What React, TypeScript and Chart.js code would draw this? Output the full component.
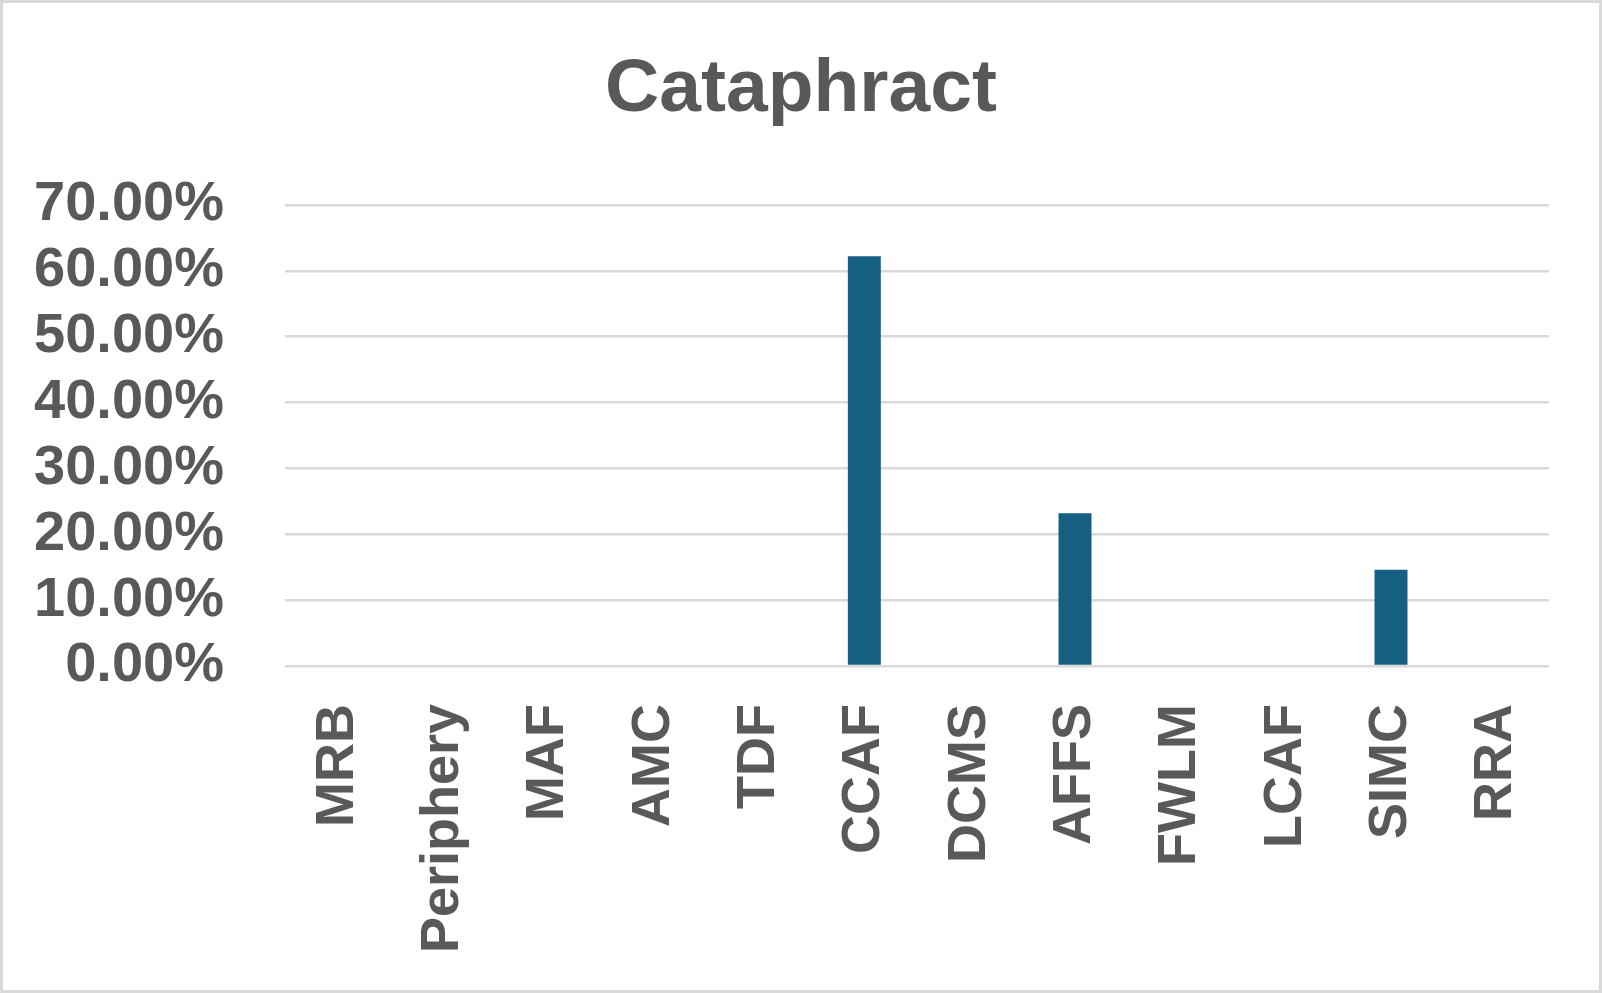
import React, { useEffect, useRef } from "react";
import { Chart, registerables } from "chart.js";

Chart.register(...registerables);

const categories = ["MRB", "Periphery", "MAF", "AMC", "TDF", "CCAF", "DCMS", "AFFS", "FWLM", "LCAF", "SIMC", "RRA"];
const shares = [0, 0, 0, 0, 0, 0.622, 0, 0.232, 0, 0, 0.146, 0];
const yMax = 0.7;
const yStep = 0.1;
const titleText = "Cataphract";

const W = 1602;
const H = 993;
const FONT = "'Liberation Sans', Arial, sans-serif";
const TEXT = "#595959";
const GRID = "#d9d9d9";
const BAR = "#156082";

const frame = {
  id: "frame",
  beforeDraw(chart: any) {
    const ctx = chart.ctx;
    ctx.save();
    ctx.fillStyle = "#ffffff";
    ctx.fillRect(0, 0, chart.width, chart.height);
    ctx.restore();
  },
  afterDraw(chart: any) {
    const ctx = chart.ctx;
    ctx.save();
    ctx.strokeStyle = GRID;
    ctx.lineWidth = 3;
    ctx.strokeRect(1.5, 1.5, chart.width - 3, chart.height - 3);
    ctx.restore();
  },
};

export default function App() {
  const ref = useRef<HTMLCanvasElement | null>(null);
  useEffect(() => {
    if (!ref.current) return;
    const chart = new Chart(ref.current, {
      type: "bar",
      data: {
        labels: categories,
        datasets: [
          {
            data: shares,
            backgroundColor: BAR,
            borderWidth: 0,
            categoryPercentage: 1,
            barPercentage: 0.313,
            yAxisID: "y",
          },
        ],
      },
      options: {
        responsive: false,
        animation: false,
        layout: { padding: { left: 0, right: 0, top: 0, bottom: 0 } },
        plugins: {
          legend: { display: false },
          tooltip: { enabled: false },
          title: {
            display: true,
            text: titleText,
            color: TEXT,
            font: { family: FONT, size: 75, weight: "bold", lineHeight: 1.2 },
            padding: { top: 45, bottom: 70 },
          },
        },
        scales: {
          x: {
            grid: { display: false, drawTicks: false },
            border: { display: false },
            ticks: {
              color: TEXT,
              font: { family: FONT, size: 54, weight: "bold" },
              minRotation: 90,
              maxRotation: 90,
              padding: 38,
              autoSkip: false,
            },
            afterFit(scale: any) {
              scale.height = H - 666;
            },
          },
          y: {
            min: 0,
            max: yMax,
            grid: { color: GRID, lineWidth: 2.5, drawTicks: false },
            border: { display: false },
            ticks: {
              stepSize: yStep,
              autoSkip: false,
              color: TEXT,
              padding: 61,
              font: { family: FONT, size: 56, weight: "bold" },
              callback: (v: any) => (Number(v) * 100).toFixed(2) + "%",
            },
            afterFit(scale: any) {
              scale.width = 285;
            },
          },
          yRight: {
            position: "right",
            min: 0,
            max: yMax,
            grid: { display: false, drawTicks: false },
            border: { display: false },
            ticks: { display: false },
            afterFit(scale: any) {
              scale.width = W - 1549;
            },
          },
        },
      },
      plugins: [frame],
    });
    return () => chart.destroy();
  }, []);
  return (
    <div style={{ position: "fixed", left: 0, top: 0, width: W, height: H }}>
      <canvas ref={ref} width={W} height={H} style={{ display: "block" }} />
    </div>
  );
}
